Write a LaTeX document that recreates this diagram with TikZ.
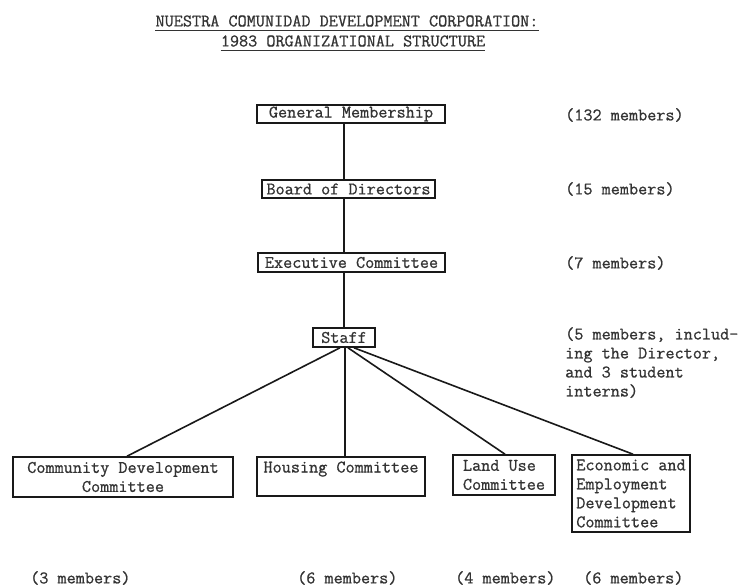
\documentclass[tikz,border=0pt]{standalone}
\usepackage{fontspec}
\setmonofont{Latin Modern Mono}[FakeBold=0.8]
\begin{document}
\begin{tikzpicture}[x=1pt,y=-1pt,
  every node/.style={font=\ttfamily\fontsize{17.7}{19}\selectfont, text=black!80},
  orgbox/.style={draw=black!90, line width=1.6pt, inner sep=0pt},
  link/.style={draw=black!90, line width=1.6pt},
  note/.style={inner sep=0pt, anchor=west},
  ttl/.style={inner sep=0pt}]
\useasboundingbox[fill=white] (0,0) rectangle (741,586);
% title
\node[ttl] (t1) at (347,21) {NUESTRA COMUNIDAD DEVELOPMENT CORPORATION:};
\node[ttl] (t2) at (353,41) {1983 ORGANIZATIONAL STRUCTURE};
\draw[line width=0.9pt, black!80] ([yshift=-4.5pt]t1.base west) -- ([yshift=-4.5pt]t1.base east);
\draw[line width=0.9pt, black!80] ([yshift=-4.5pt]t2.base west) -- ([yshift=-4.5pt]t2.base east);
% boxes
\node[orgbox, minimum width=188, minimum height=18] (gm) at (351,114) {General Membership};
\node[orgbox, minimum width=173, minimum height=18] (bod) at (348.5,189) {Board of Directors};
\node[orgbox, minimum width=187, minimum height=19] (ec) at (351.5,262.5) {Executive Committee};
\node[orgbox, minimum width=62, minimum height=19] (staff) at (344,337.5) {Staff};
\node[orgbox, minimum width=220, minimum height=40, align=center] (cdc) at (123,477) {Community Development\\Committee};
\node[orgbox, minimum width=168, minimum height=39, align=left] (hc) at (341,476.5) {Housing Committee\\\phantom{X}};
\node[orgbox, minimum width=102, minimum height=40, align=left] (luc) at (504,475) {Land Use\\Committee};
\node[orgbox, minimum width=118, minimum height=77, align=left] (eed) at (631,493.5) {Economic and\\Employment\\Development\\Committee};
\coordinate (sh) at ([xshift=1pt]staff.south);
% connectors
\draw[link] (gm.south -| staff.south) -- (bod.north -| staff.south);
\draw[link] (bod.south -| staff.south) -- (ec.north -| staff.south);
\draw[link] (ec.south -| staff.south) -- (staff.north);
\draw[link] ([xshift=-4pt]staff.south) -- ([xshift=4pt]cdc.north);
\draw[link] (sh) -- (hc.north -| sh);
\draw[link] ([xshift=4pt]staff.south) -- ([xshift=1pt]luc.north);
\draw[link] ([xshift=10pt]staff.south) -- ([xshift=2pt]eed.north);
% member counts
\node[note] (n1) at (565,115) {(132 members)};
\node[note] (n2) at (565,189) {(15 members)};
\node[note] (n3) at (565,263) {(7 members)};
\node[inner sep=0pt, anchor=north west, align=left] (n4) at (565,327) {(5 members, includ-\\ing the Director,\\and 3 student\\interns)};
\node[note] (n5) at (30,578) {(3 members)};
\node[note] (n6) at (297,578) {(6 members)};
\node[note] (n7) at (455,578) {(4 members)};
\node[note] (n8) at (583,578) {(6 members)};
\end{tikzpicture}
\end{document}
